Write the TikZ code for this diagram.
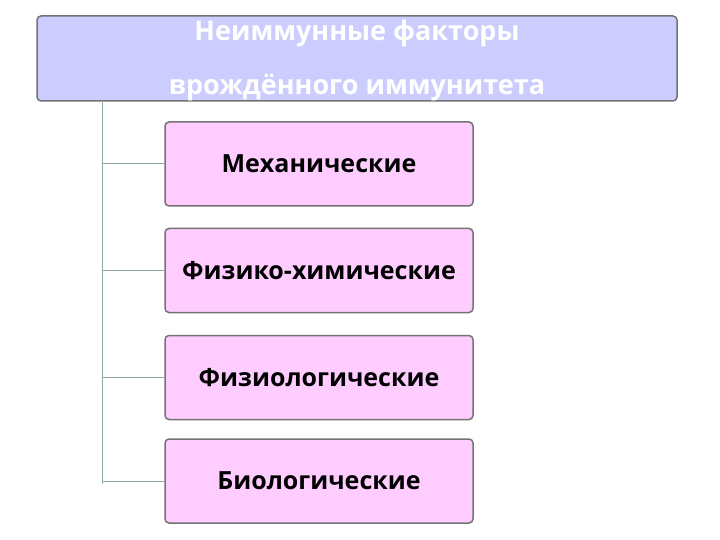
\documentclass[tikz,border=0pt]{standalone}
\usepackage{fontspec}
\setmainfont{Open Sans}
\begin{document}
\begin{tikzpicture}[x=1pt,y=-1pt,
  topbox/.style={draw=black!55,line width=1.5pt,fill={rgb,255:red,204;green,204;blue,255},rounded corners=4pt},
  kidbox/.style={draw=black!55,line width=1.5pt,fill={rgb,255:red,255;green,204;blue,255},rounded corners=4pt,minimum width=308pt,minimum height=84pt,font=\fontsize{25}{30}\selectfont\bfseries},
  conn/.style={draw={rgb,255:red,140;green,170;blue,160},line width=1pt}]
\useasboundingbox (0,0) rectangle (720,540);
\node[topbox,minimum width=640pt,minimum height=85pt] (top) at (357,58.5) {};
\node[text=white,font=\fontsize{27}{54}\selectfont\bfseries,align=center] (title) at (357,60) {Неиммунные факторы\\врождённого иммунитета};
\node[kidbox] (k1) at (319,164) {Механические};
\node[kidbox] (k2) at (319,270.5) {Физико-химическиe};
\node[kidbox] (k3) at (319,377.5) {Физиологические};
\node[kidbox] (k4) at (319,481) {Биологические};
\coordinate (v0) at (102,101);
\coordinate (v4) at (102,484);
\draw[conn] (v0) -- (v4);
\foreach \k in {1,2,3,4}{\draw[conn] (k\k.west -| v0) -- (k\k.west);}
\end{tikzpicture}
\end{document}
